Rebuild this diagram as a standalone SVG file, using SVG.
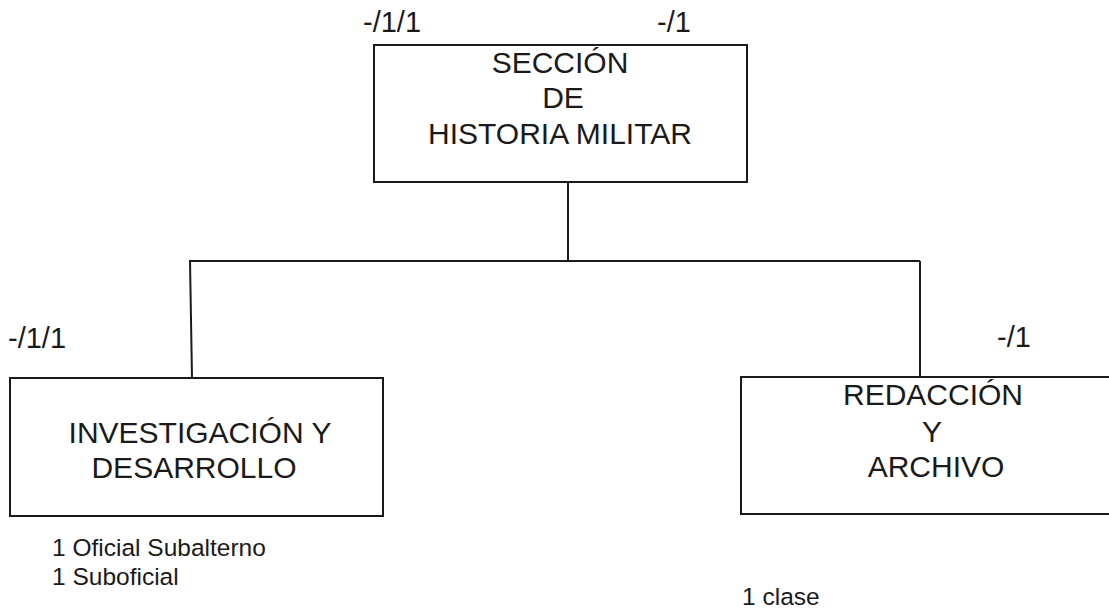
<svg xmlns="http://www.w3.org/2000/svg" width="1109" height="609" viewBox="0 0 1109 609">
<style>
.box{fill:#fff;stroke:#1a1a1a;stroke-width:2}
.ln{stroke:#1a1a1a;stroke-width:2;fill:none}
text{font-family:"Liberation Sans",Arial,sans-serif;fill:#1a1a1a}
.t{font-size:30px;text-anchor:middle}
.n{font-size:29px}
.s{font-size:24.5px}
</style>
<rect width="1109" height="609" fill="#fff"/>
<g id="connectors">
<line class="ln" x1="568" y1="182" x2="568" y2="261"/>
<line class="ln" x1="189" y1="261" x2="920" y2="261"/>
<line class="ln" x1="190" y1="261" x2="192" y2="378"/>
<line class="ln" x1="920" y1="261" x2="920" y2="377"/>
</g>
<g id="seccion">
<rect class="box" x="374" y="45" width="373" height="137"/>
<text class="t" x="560" y="73">SECCIÓN</text>
<text class="t" x="563" y="108">DE</text>
<text class="t" x="560" y="144">HISTORIA MILITAR</text>
<text class="n" x="363" y="32">-/1/1</text>
<text class="n" x="657" y="32">-/1</text>
</g>
<g id="investigacion">
<rect class="box" x="10" y="378" width="373" height="138"/>
<text class="t" x="200" y="443">INVESTIGACIÓN Y</text>
<text class="t" x="194" y="478">DESARROLLO</text>
<text class="n" x="8" y="348">-/1/1</text>
<text class="s" x="52" y="556">1 Oficial Subalterno</text>
<text class="s" x="52" y="585">1 Suboficial</text>
</g>
<g id="redaccion">
<rect class="box" x="741" y="377" width="384" height="137"/>
<text class="t" x="933" y="405">REDACCIÓN</text>
<text class="t" x="932" y="442">Y</text>
<text class="t" x="936" y="477">ARCHIVO</text>
<text class="n" x="997" y="347">-/1</text>
<text class="s" x="742" y="605">1 clase</text>
</g>
</svg>
